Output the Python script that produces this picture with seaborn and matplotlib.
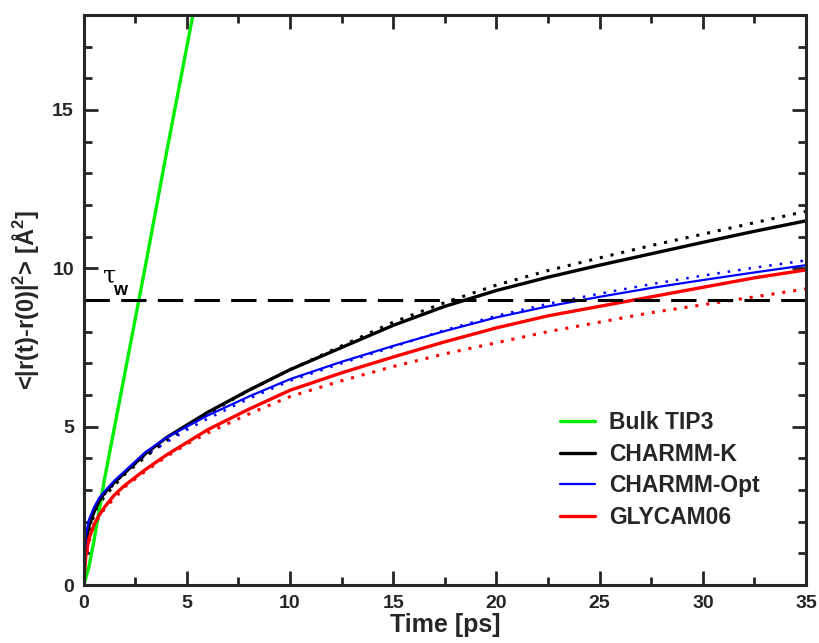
import numpy as np
import pandas as pd
import matplotlib
matplotlib.use("Agg")
import matplotlib.pyplot as plt
import seaborn as sns
from matplotlib.lines import Line2D
from matplotlib.ticker import MultipleLocator

# ---- data ----
t_green = [0, 0.25, 0.5, 1, 2, 3, 4, 5, 5.5]
bulk_tip3 = [0, 0.55, 1.4, 3.3, 6.7, 10.1, 13.6, 17.0, 18.7]

t = [0, 0.1, 0.25, 0.5, 0.75, 1, 1.5, 2, 3, 4, 5, 6, 8, 10, 12.5, 15, 17.5,
     20, 22.5, 25, 27.5, 30, 32.5, 35]
charmm_k = [0, 1.3, 1.85, 2.3, 2.65, 2.9, 3.25, 3.55, 4.15, 4.65, 5.05, 5.45,
            6.15, 6.8, 7.5, 8.2, 8.8, 9.3, 9.72, 10.1, 10.46, 10.82, 11.17, 11.5]
charmm_opt = [0, 1.55, 2.05, 2.45, 2.75, 2.95, 3.3, 3.6, 4.2, 4.65, 5.0, 5.35,
              5.95, 6.5, 7.05, 7.55, 8.02, 8.45, 8.8, 9.1, 9.38, 9.63, 9.87, 10.1]
glycam06 = [0, 0.9, 1.45, 1.9, 2.2, 2.45, 2.85, 3.15, 3.65, 4.1, 4.5, 4.9,
            5.55, 6.15, 6.7, 7.2, 7.68, 8.12, 8.5, 8.8, 9.1, 9.4, 9.7, 9.95]

t_fit = [0, 0.1, 0.25, 0.5, 1, 2, 3, 4, 5, 6, 8, 10, 12.5, 15, 17.5, 20, 22.5,
         25, 27.5, 30, 32.5, 35]
charmm_k_fit = [0, 1.1, 1.7, 2.2, 2.8, 3.5, 4.05, 4.55, 5.0, 5.4, 6.15, 6.8, 7.55,
                8.3, 8.92, 9.47, 9.93, 10.33, 10.72, 11.08, 11.44, 11.8]
charmm_opt_fit = [0, 1.3, 1.9, 2.35, 2.85, 3.55, 4.1, 4.5, 4.9, 5.25, 5.88, 6.45, 7.0,
                  7.52, 8.05, 8.5, 8.88, 9.2, 9.5, 9.77, 10.02, 10.25]
glycam06_fit = [0, 0.8, 1.35, 1.85, 2.4, 3.1, 3.6, 4.05, 4.45, 4.8, 5.4, 5.95, 6.45,
                6.9, 7.3, 7.65, 8.0, 8.3, 8.6, 8.85, 9.1, 9.35]

tau_w = 9.0
labels = ["Bulk TIP3", "CHARMM-K", "CHARMM-Opt", "GLYCAM06"]
colors = ["#00ee00", "black", "#0000ff", "#ff0000"]

sns.set_style("ticks")
plt.rcParams['font.family'] = ['Liberation Sans', 'DejaVu Sans']
plt.rcParams['font.weight'] = 'bold'
plt.rcParams['mathtext.fontset'] = 'custom'
plt.rcParams['mathtext.rm'] = 'Liberation Sans:bold'
plt.rcParams['mathtext.bf'] = 'Liberation Sans:bold'
plt.rcParams['mathtext.it'] = 'Liberation Sans:italic'

fig = plt.figure(figsize=(8.2, 6.43), dpi=100)
ax = fig.add_axes([0.102, 0.0902, 0.881, 0.8865])

df_g = pd.DataFrame({"t": t_green, "v": bulk_tip3})
df = pd.DataFrame({"t": t, "k": charmm_k, "o": charmm_opt, "g": glycam06})
dff = pd.DataFrame({"t": t_fit, "k": charmm_k_fit, "o": charmm_opt_fit, "g": glycam06_fit})

dot = (0, (1, 2.6))
sns.lineplot(data=dff, x="t", y="k", ax=ax, color="black", lw=2.2, linestyle=dot,
             dash_capstyle="butt")
sns.lineplot(data=dff, x="t", y="o", ax=ax, color="#0000ff", lw=1.8, linestyle=(0, (1, 3.2)),
             dash_capstyle="butt")
sns.lineplot(data=dff, x="t", y="g", ax=ax, color="#ff0000", lw=2.2, linestyle=dot,
             dash_capstyle="butt")

sns.lineplot(data=df_g, x="t", y="v", ax=ax, color=colors[0], lw=2.4)
sns.lineplot(data=df, x="t", y="k", ax=ax, color=colors[1], lw=2.4)
sns.lineplot(data=df, x="t", y="g", ax=ax, color=colors[3], lw=2.4)
sns.lineplot(data=df, x="t", y="o", ax=ax, color=colors[2], lw=1.6)

ax.axhline(tau_w, color="black", lw=2.2, linestyle=(0, (8.3, 3.7)), dash_capstyle="butt")
ax.text(0.92, 9.54, "τ", fontsize=17, color="black", family=['DejaVu Serif'],
        fontweight='normal', va='baseline')
ax.text(1.42, 9.16, "w", fontsize=13, color="black", va='baseline')

ax.set_xlim(0, 35)
ax.set_ylim(0, 18)
ax.xaxis.set_major_locator(MultipleLocator(5))
ax.xaxis.set_minor_locator(MultipleLocator(2.5))
ax.yaxis.set_major_locator(MultipleLocator(5))
ax.yaxis.set_minor_locator(MultipleLocator(1))
ax.tick_params(which='both', direction='in', top=True, right=True, width=2.0,
               labelsize=14, pad=7)
ax.tick_params(which='major', length=10)
ax.tick_params(which='minor', length=5.5)
for s in ax.spines.values():
    s.set_linewidth(2.2)
    s.set_visible(True)
for lab in ax.get_xticklabels() + ax.get_yticklabels():
    lab.set_fontweight('bold')

ax.set_xlabel("Time [ps]", fontsize=18, fontweight='bold', labelpad=1)
ax.set_ylabel(r"<|r(t)-r(0)|$^2$> [Å$^2$]", fontsize=17, fontweight='bold', labelpad=8)

handles = [Line2D([0], [0], color=c, lw=2.4 if c != "#0000ff" else 1.6) for c in colors]
ax.legend(handles, labels, loc='upper left', bbox_to_anchor=(0.647, 0.322),
          frameon=False, handlelength=1.5, handletextpad=0.63,
          labelspacing=0.39, borderaxespad=0.0,
          prop={'weight': 'bold', 'size': 16.5})

fig.savefig("out.png", dpi=100)
